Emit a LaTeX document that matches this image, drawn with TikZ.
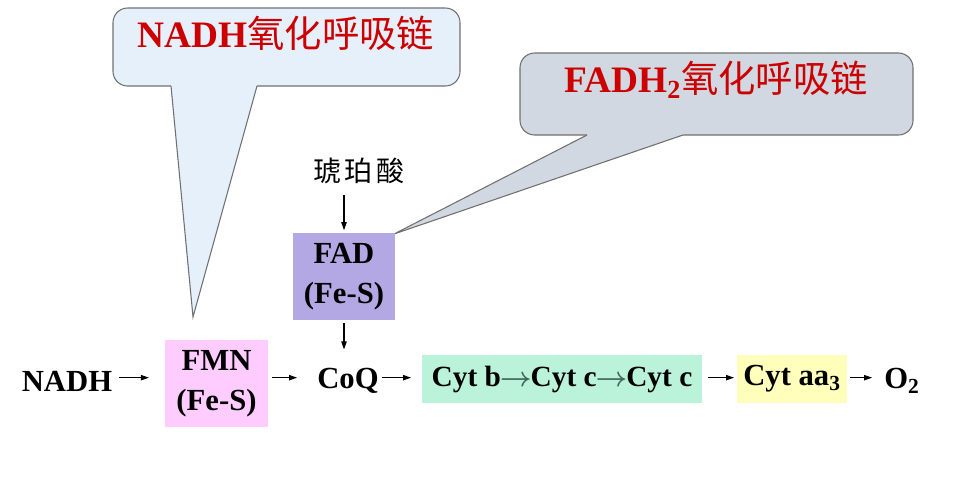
\documentclass[tikz,border=0pt]{standalone}
\usepackage{amsmath}
\usepackage{fontspec}
\setmainfont{Liberation Serif}
\newfontfamily\cjk{Noto Sans CJK SC}
\usetikzlibrary{arrows.meta,positioning}
\definecolor{titlered}{HTML}{CC0000}
\definecolor{bluefill}{HTML}{E6F0FB}
\definecolor{greyfill}{HTML}{D1D8E1}
\definecolor{edgegrey}{HTML}{707070}
\definecolor{fadfill}{HTML}{B4A8E4}
\definecolor{fmnfill}{HTML}{FFCCFF}
\definecolor{cytfill}{HTML}{BBF3DA}
\definecolor{aafill}{HTML}{FFFFBB}
\definecolor{innerarrow}{HTML}{3F6A5A}
\newcommand{\cytto}{\kern-0.8pt{\color{innerarrow}$\boldsymbol{\rightarrow}$}\kern-0.8pt}

\begin{document}
\begin{tikzpicture}[x=0.75pt,y=-0.75pt,
  every node/.style={font=\bfseries\fontsize{23}{30}\selectfont,inner sep=0pt},
  arr/.style={-{Triangle[length=6pt,width=4pt]},line width=0.8pt},
  enzyme/.style={minimum width=77pt,minimum height=65pt,align=center},
  cytbox/.style={minimum height=36pt},
  callout/.style={draw=edgegrey,line width=0.8pt,rounded corners=11pt},
  calltitle/.style={font=\bfseries\fontsize{28}{30}\selectfont,text=titlered}]
\useasboundingbox (0,0) rectangle (974,476);

% callouts
\draw[callout,fill=bluefill] (113,8) rectangle (460,86);
\fill[bluefill] (171,83) -- (171,86) -- (193,317) -- (257,86) -- (257,83) -- cycle;
\draw[draw=edgegrey,line width=0.8pt] (171,86) -- (193,317) -- (257,86);
\node[calltitle] (title1) at (286,33) {NADH{\cjk\mdseries 氧化呼吸链}};

\draw[callout,fill=greyfill] (520,53) rectangle (913,135);
\fill[greyfill] (587,132) -- (587,135) -- (394,234) -- (683,135) -- (683,132) -- cycle;
\draw[draw=edgegrey,line width=0.8pt] (587,135) -- (394,234) -- (683,135);
\node[calltitle] (title2) at (716,80) {FADH\textsubscript{2}{\cjk\mdseries 氧化呼吸链}};

% side branch
\node[font=\cjk\fontsize{21}{22}\selectfont] (succ) at (359,171) {琥\hspace{3pt}珀\hspace{3pt}酸};
\node[enzyme,fill=fadfill] (fad) at (344,276.5) {FAD\\(Fe-S)};

% main chain
\node (nadh) at (67,381) {NADH};
\node[enzyme,fill=fmnfill] (fmn) at (216.5,383.5) {FMN\\(Fe-S)};
\node (coq) at (348,381) {CoQ};
\node[cytbox,fill=cytfill,minimum width=210pt,font=\bfseries\fontsize{22}{30}\selectfont] (cyt) at (562,379)
  {Cyt b\cytto Cyt c\cytto Cyt c};
\node[cytbox,fill=aafill,minimum width=82.5pt] (aa) at (792,379) {Cyt aa\textsubscript{3}};
\node (o2) at (902,381) {O\textsubscript{2}};

\draw[arr,shorten <=8pt,shorten >=2pt] (succ.south -| fad.north) -- (fad.north);
\draw[arr,shorten <=2pt,shorten >=14pt] (fad.south) -- (fad.south |- coq.north);
\draw[arr,shorten <=5pt,shorten >=12pt] ([yshift=2.5pt]nadh.east) -- ([yshift=2.5pt]nadh.east -| fmn.west);
\draw[arr,shorten <=3pt,shorten >=15pt] ([yshift=2.5pt]fmn.east |- nadh.east) -- ([yshift=2.5pt]coq.west);
\draw[arr,shorten <=2pt,shorten >=8pt] ([yshift=2.5pt]coq.east) -- ([yshift=2.5pt]cyt.west |- coq.east);
\draw[arr,shorten <=4pt,shorten >=2pt] ([yshift=2.5pt]cyt.east |- coq.east) -- ([yshift=2.5pt]aa.west |- coq.east);
\draw[arr,shorten <=2pt,shorten >=9pt] ([yshift=2.5pt]aa.east |- coq.east) -- ([yshift=2.5pt]o2.west);
\end{tikzpicture}
\end{document}
